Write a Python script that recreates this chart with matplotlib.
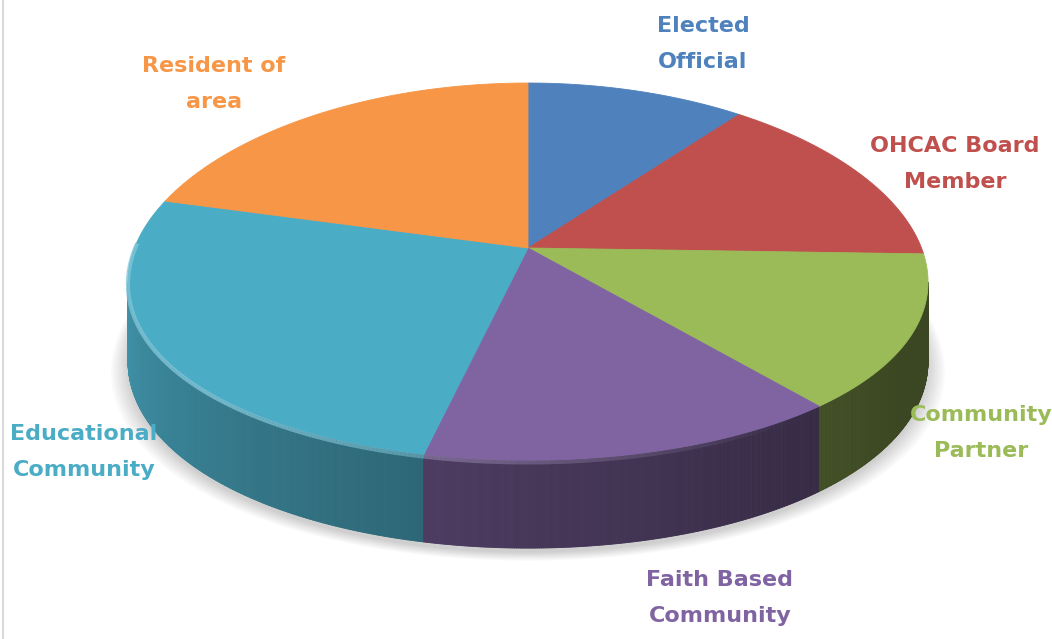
import numpy as np
import matplotlib.pyplot as plt
from matplotlib.collections import PolyCollection, LineCollection
from matplotlib.patches import Polygon
from matplotlib.colors import to_rgb

categories = ["Elected\nOfficial", "OHCAC Board\nMember", "Community\nPartner",
              "Faith Based\nCommunity", "Educational\nCommunity", "Resident of\narea"]
values = [10.5, 15, 13.5, 14.5, 25.7, 20.8]
colors = ["#4F81BD", "#C0504D", "#9BBB59", "#8064A2", "#4BACC6", "#F79646"]
label_pos = [(703, 44), (955, 164), (981, 433), (720, 598), (84, 452), (214, 84)]

W, H = 1052, 639
fig = plt.figure(figsize=(W / 100, H / 100), dpi=100)
ax = fig.add_axes([0, 0, 1, 1])
ax.set_xlim(0, W)
ax.set_ylim(H, 0)
ax.axis('off')

# pie geometry (simple perspective: front is closer than back)
cx, cy = 528, 248
R, Ry = 393.5, 185.6
p, q = 0.125, 0.18
D = 77


def proj(t, depth=0.0):
    u, v = np.cos(t), np.sin(t)
    wy = 1 + p * v
    wx = 1 + q * v
    return cx + R * u / wx, cy - Ry * v / wy + depth / wy


# slice boundaries, clockwise from 12 o'clock
frac = np.cumsum([0] + values) / sum(values)
bounds = 90 - 360 * frac  # degrees


def slice_of(deg):
    d = (90 - deg) % 360
    return min(np.searchsorted(360 * frac, d, side='right') - 1, len(values) - 1)


# soft shadow under the pie
tt = np.radians(np.linspace(0, 360, 361))
for k in range(8):
    s = 1 + 0.006 * k
    xs, ys = proj(tt, D + 4 + k)
    xs = cx + (xs - cx) * s
    ax.add_patch(Polygon(np.column_stack([xs, ys]), closed=True,
                         facecolor='black', edgecolor='none', alpha=0.025))

# side wall (front-facing part only) with horizontal shading
sil = np.degrees(np.arcsin(q))
step = 0.25
degs = np.arange(180 + sil, 360 - sil, step)
quads, qcols = [], []
for d in degs:
    d1 = min(d + step, 360 - sil)
    dm = (d + d1) / 2
    i = slice_of(dm)
    f = 0.38 + 0.52 * np.clip((330 - dm) / 150, 0, 1) ** 1.2
    c = np.array(to_rgb(colors[i])) * f
    t0, t1 = np.radians(d), np.radians(d1)
    x0, y0 = proj(t0)
    x1, y1 = proj(t1)
    x2, y2 = proj(t1, D)
    x3, y3 = proj(t0, D)
    quads.append([(x0, y0), (x1, y1), (x2, y2), (x3, y3)])
    qcols.append(c)
ax.add_collection(PolyCollection(quads, facecolors=qcols, edgecolors=qcols, linewidths=0.6))

# top faces
for i, c in enumerate(colors):
    a0, a1 = bounds[i], bounds[i + 1]
    ts = np.radians(np.linspace(a0, a1, 200))
    xs, ys = proj(ts)
    pts = np.vstack([[cx, cy], np.column_stack([xs, ys])])
    ax.add_patch(Polygon(pts, closed=True, facecolor=c, edgecolor=c, linewidth=0.6))

# bevel highlight along the front rim
segs, scols = [], []
for d in np.arange(178, 320, 0.5):
    dm = d + 0.25
    i = slice_of(dm)
    base = np.array(to_rgb(colors[i]))
    light = base + (1 - base) * 0.3
    a = np.clip((305 - dm) / 80, 0, 1) * 0.85
    xa, ya = proj(np.radians(d), 2.0)
    xb, yb = proj(np.radians(d + 0.5), 2.0)
    segs.append([(xa, ya), (xb, yb)])
    scols.append((*light, a))
ax.add_collection(LineCollection(segs, colors=scols, linewidths=3.0, capstyle='butt'))

# labels
for cat, c, (lx, ly) in zip(categories, colors, label_pos):
    ax.text(lx, ly, cat, ha='center', va='center', fontsize=16, fontweight='bold',
            color=c, linespacing=2.0, family='DejaVu Sans')

ax.axvline(3, color='#d9d9d9', lw=1.5)

fig.savefig("out.png", dpi=100)
